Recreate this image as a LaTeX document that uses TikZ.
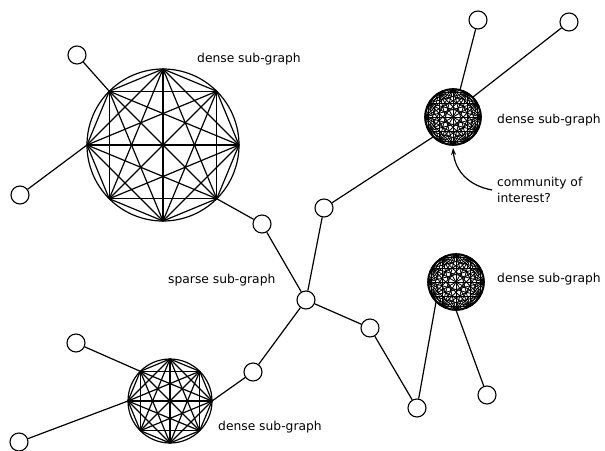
\documentclass[tikz,border=0pt]{standalone}
\usepackage{fontspec}
\setmainfont{DejaVu Sans}
\usetikzlibrary{arrows.meta}
\newcommand\cliqueK[6]{% name, cx, cy, r, n, line width
  \foreach \i in {1,...,#5}{
    \coordinate (#1\i) at ({#2+#4*cos(360*(\i-1)/#5)},{#3+#4*sin(360*(\i-1)/#5)});
  }
  \foreach \i in {1,...,#5}{
    \foreach \j in {\i,...,#5}{\draw[line width=#6,line join=round] (#1\i) -- (#1\j);}
  }
  \draw[line width=#6] (#2,#3) circle (#4);
}
\begin{document}
\begin{tikzpicture}[x=1pt,y=-1pt,
  vtx/.style={circle,draw,fill=white,minimum size=18pt,inner sep=0pt,line width=1.1pt},
  lbl/.style={font=\fontsize{12.3}{16}\selectfont,inner sep=0pt,anchor=west},
  link/.style={line width=1.2pt}]
\useasboundingbox (0,0) rectangle (605,450);

% cliques
\cliqueK{B}{163}{145}{76}{8}{1.2pt}
\cliqueK{D}{170}{401}{42}{8}{1.2pt}
\cliqueK{C}{453}{117}{28}{12}{0.85pt}
\cliqueK{E}{456}{282}{28}{12}{0.85pt}
\draw[line width=1.6pt] (453,117) circle (28);
\draw[line width=1.6pt] (456,282) circle (28);
\coordinate (Ctop) at (460,90);
\coordinate (Cur) at (473,97);
\coordinate (Cll) at (433,137);
\coordinate (Cbot) at (453,148);
\coordinate (Ell) at (436,302);

% small vertices
\node[vtx] (n1) at (77,55) {};
\node[vtx] (n2) at (20,195) {};
\node[vtx] (n3) at (262,224) {};
\node[vtx] (hub) at (306,300) {};
\node[vtx] (n4) at (324,208) {};
\node[vtx] (n5) at (370,328) {};
\node[vtx] (n6) at (417,408) {};
\node[vtx] (n7) at (487,395) {};
\node[vtx] (n8) at (478,20) {};
\node[vtx] (n9) at (569,22) {};
\node[vtx] (n10) at (253,372) {};
\node[vtx] (n11) at (76,343) {};
\node[vtx] (n12) at (19,442) {};

% connectors
\draw[link] (n1) -- (B6);
\draw[link] (n2) -- (B5);
\draw[link] (n3) -- (B2);
\draw[link] (n3) -- (hub);
\draw[link] (hub) -- (n4);
\draw[link] (n4) -- (Cll);
\draw[link] (n8) -- (Ctop);
\draw[link] (n9) -- (Cur);
\draw[link] (hub) -- (n5);
\draw[link] (n5) -- (n6);
\draw[link] (n6) -- (Ell);
\draw[link] (n7) -- (E4);
\draw[link] (hub) -- (n10);
\draw[link] (n10) -- (D1);
\draw[link] (n11) -- (D6);
\draw[link] (n12) -- (D5);

% labels
\node[lbl] (L1) at (197,59) {dense sub-graph};
\node[lbl] (L2) at (497,120) {dense sub-graph};
\node[lbl,align=left] (L3) at (497,190) {community of\\interest?};
\node[lbl] (L4) at (497,279) {dense sub-graph};
\node[lbl] (L5) at (168,280) {sparse sub-graph};
\node[lbl] (L6) at (218,427) {dense sub-graph};

\coordinate (arrtail) at (492,190);
\draw[link,-{Stealth[length=7pt,width=5pt]}] (arrtail) .. controls (470,186) and (455,172) .. (Cbot);
\end{tikzpicture}
\end{document}
